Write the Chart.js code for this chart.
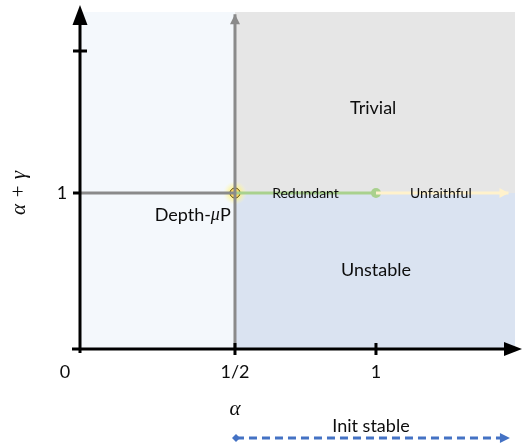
<!DOCTYPE html>
<html>
<head>
<meta charset="utf-8">
<script src="https://cdn.jsdelivr.net/npm/chart.js@4/dist/chart.umd.min.js"></script>
<style>
  html, body { margin: 0; padding: 0; background: #ffffff; }
  #wrap { width: 522px; height: 447px; position: relative; }
</style>
</head>
<body>
<div id="wrap"><canvas id="c" width="522" height="447"></canvas></div>
<script>
// ---- data ----
const xTickValues = [0.5, 1];
const xTickLabels = ['1/2', '1'];
const yTickValues = [1, 2];
const yTickLabels = ['1', ''];
const originLabel = '0';
const xAxisTitle = 'α';
const yAxisTitle = 'α + γ';

const boundaryX = 0.5;   // alpha = 1/2
const boundaryY = 1;     // alpha + gamma = 1

const grayHorizontal = [{ x: -0.05, y: 1 }, { x: 0.5, y: 1 }];
const grayVertical = [{ x: 0.5, y: -0.1 }, { x: 0.5, y: 2.26 }];
const redundantSegment = [{ x: 0.5, y: 1 }, { x: 1, y: 1 }];
const unfaithfulSegment = [{ x: 1, y: 1 }, { x: 1.47, y: 1 }];
const depthMuPPoint = [{ x: 0.5, y: 1 }];
const redundantEndPoint = [{ x: 1, y: 1 }];

const regionNames = ['Trivial', 'Depth-μP', 'Unstable'];
const regionLabelX = [0.99, 0.35, 1.0];
const regionLabelY = [1.6, 0.845, 0.46];
const segmentNames = ['Redundant', 'Unfaithful'];
const segmentLabelX = [0.75, 1.23];
const segmentLabelY = [1, 1];

const initStableLabel = 'Init stable';
const initStableFrom = 0.5;
const initStableTo = 1.475;

// ---- styles ----
const C = {
  leftRegion: '#f4f8fc',
  trivialRegion: '#e6e6e6',
  unstableRegion: '#dae3f1',
  gray: '#8a8a8a',
  green: '#a9d18e',
  yellowLine: '#fff2cc',
  yellowPoint: '#ffd966',
  blue: '#4472c4',
  text: '#0d0d0d'
};
const SANS = 'Lato, "Open Sans", sans-serif';

function arrowHead(ctx, tipX, tipY, dir, len, half, color) {
  ctx.save();
  ctx.fillStyle = color;
  ctx.beginPath();
  if (dir === 'up') {
    ctx.moveTo(tipX, tipY); ctx.lineTo(tipX - half, tipY + len); ctx.lineTo(tipX + half, tipY + len);
  } else if (dir === 'right') {
    ctx.moveTo(tipX, tipY); ctx.lineTo(tipX - len, tipY - half); ctx.lineTo(tipX - len, tipY + half);
  }
  ctx.closePath();
  ctx.fill();
  ctx.restore();
}

// draw text where a Greek "μ" is set in math italic
function mixedText(ctx, text, cx, cy, size) {
  const parts = text.split(/(μ)/).filter(s => s.length);
  const fontFor = s => s === 'μ' ? 'italic ' + size + 'px "Liberation Serif", serif' : size + 'px ' + SANS;
  let total = 0;
  parts.forEach(s => { ctx.font = fontFor(s); total += ctx.measureText(s).width; });
  let px = cx - total / 2;
  ctx.save();
  ctx.textAlign = 'left';
  parts.forEach(s => { ctx.font = fontFor(s); ctx.fillText(s, px, cy); px += ctx.measureText(s).width; });
  ctx.restore();
}

const diagramPlugin = {
  id: 'diagram',
  beforeDatasetsDraw(chart) {
    const { ctx, chartArea: a, scales: { x, y } } = chart;
    const bx = x.getPixelForValue(boundaryX);
    const by = y.getPixelForValue(boundaryY);
    ctx.save();
    ctx.fillStyle = C.leftRegion;
    ctx.fillRect(a.left, a.top, bx - a.left, a.bottom - a.top);
    ctx.fillStyle = C.trivialRegion;
    ctx.fillRect(bx, a.top, a.right - bx, by - a.top);
    ctx.fillStyle = C.unstableRegion;
    ctx.fillRect(bx, by, a.right - bx, a.bottom - by);
    ctx.restore();
  },
  afterDatasetsDraw(chart) {
    const { ctx, chartArea: a, scales: { x, y } } = chart;
    const gvTop = grayVertical[grayVertical.length - 1];
    arrowHead(ctx, x.getPixelForValue(gvTop.x), y.getPixelForValue(gvTop.y), 'up', 10, 5, C.gray);
    const ufEnd = unfaithfulSegment[unfaithfulSegment.length - 1];
    arrowHead(ctx, x.getPixelForValue(ufEnd.x), y.getPixelForValue(ufEnd.y), 'right', 9, 5, C.yellowLine);

    // black axes
    ctx.save();
    ctx.strokeStyle = '#000';
    ctx.lineWidth = 3;
    ctx.beginPath();
    ctx.moveTo(a.left, a.bottom + 4);
    ctx.lineTo(a.left, 24);
    ctx.moveTo(a.left - 8, a.bottom);
    ctx.lineTo(506, a.bottom);
    ctx.stroke();
    arrowHead(ctx, a.left, 5, 'up', 20, 7.5, '#000');
    arrowHead(ctx, 522, a.bottom, 'right', 18, 7, '#000');
    ctx.beginPath();
    xTickValues.forEach(v => {
      const px = x.getPixelForValue(v);
      ctx.moveTo(px, a.bottom - 6); ctx.lineTo(px, a.bottom + 6);
    });
    yTickValues.forEach((v, i) => {
      const py = y.getPixelForValue(v);
      ctx.moveTo(a.left - 7, py); ctx.lineTo(a.left + (yTickLabels[i] ? 0 : 7), py);
    });
    ctx.stroke();

    // tick labels
    ctx.fillStyle = C.text;
    ctx.font = '18px ' + SANS;
    ctx.textAlign = 'center';
    ctx.textBaseline = 'middle';
    xTickValues.forEach((v, i) => ctx.fillText(xTickLabels[i], x.getPixelForValue(v), a.bottom + 23));
    ctx.fillText(originLabel, a.left - 15, a.bottom + 23);
    yTickValues.forEach((v, i) => { if (yTickLabels[i]) ctx.fillText(yTickLabels[i], a.left - 18, y.getPixelForValue(v)); });

    // axis titles
    ctx.font = 'italic 21px "Liberation Serif", serif';
    ctx.fillText(xAxisTitle, x.getPixelForValue(boundaryX), a.bottom + 60);
    ctx.save();
    ctx.translate(19, y.getPixelForValue(boundaryY));
    ctx.rotate(-Math.PI / 2);
    ctx.fillText(yAxisTitle, 0, 0);
    ctx.restore();

    // region labels
    regionNames.forEach((t, i) => mixedText(ctx, t, x.getPixelForValue(regionLabelX[i]), y.getPixelForValue(regionLabelY[i]), 18));
    ctx.font = '14px ' + SANS;
    segmentNames.forEach((t, i) => ctx.fillText(t, x.getPixelForValue(segmentLabelX[i]), y.getPixelForValue(segmentLabelY[i])));

    // init stable dashed arrow
    const x0 = x.getPixelForValue(initStableFrom) - 3;
    const x1 = x.getPixelForValue(initStableTo);
    const yy = a.bottom + 89;
    ctx.strokeStyle = C.blue;
    ctx.lineWidth = 3;
    ctx.setLineDash([8, 5]);
    ctx.beginPath();
    ctx.moveTo(x0 + 4, yy);
    ctx.lineTo(x1 - 8, yy);
    ctx.stroke();
    ctx.setLineDash([]);
    arrowHead(ctx, x1, yy, 'right', 10, 5, C.blue);
    ctx.fillStyle = C.blue;
    ctx.beginPath();
    ctx.moveTo(x0, yy); ctx.lineTo(x0 + 4, yy - 4); ctx.lineTo(x0 + 8, yy); ctx.lineTo(x0 + 4, yy + 4);
    ctx.closePath(); ctx.fill();
    ctx.fillStyle = C.text;
    ctx.font = '18px ' + SANS;
    ctx.fillText(initStableLabel, (x0 + x1) / 2, yy - 12);
    ctx.restore();
  }
};

const glowPlugin = {
  id: 'glow',
  beforeDatasetDraw(chart, args) {
    if (args.index !== 5) return;
    const { ctx, scales: { x, y } } = chart;
    const p = depthMuPPoint[0];
    const px = x.getPixelForValue(p.x), py = y.getPixelForValue(p.y);
    const g = ctx.createRadialGradient(px, py, 4, px, py, 12);
    g.addColorStop(0, 'rgba(255,240,110,0.9)');
    g.addColorStop(1, 'rgba(255,250,180,0)');
    ctx.save();
    ctx.fillStyle = g;
    ctx.beginPath(); ctx.arc(px, py, 12, 0, Math.PI * 2); ctx.fill();
    ctx.restore();
  }
};

const lineDs = (data, color, width) => ({
  type: 'line', data, borderColor: color, borderWidth: width,
  pointRadius: 0, fill: false, tension: 0
});

new Chart(document.getElementById('c'), {
  type: 'scatter',
  data: {
    datasets: [
      lineDs(grayHorizontal, C.gray, 3),
      lineDs(grayVertical, C.gray, 3),
      lineDs(redundantSegment, C.green, 3),
      lineDs(unfaithfulSegment, C.yellowLine, 3),
      { type: 'scatter', data: redundantEndPoint, pointRadius: 5, backgroundColor: C.green, borderColor: C.green, borderWidth: 0 },
      { type: 'scatter', data: depthMuPPoint, pointRadius: 5, backgroundColor: C.yellowPoint, borderColor: '#5a4a10', borderWidth: 1 }
    ]
  },
  options: {
    responsive: false,
    animation: false,
    events: [],
    layout: { padding: { left: 80, right: 7, top: 12, bottom: 98 } },
    plugins: { legend: { display: false }, tooltip: { enabled: false } },
    scales: {
      x: { type: 'linear', display: false, min: -0.0496, max: 1.493 },
      y: { type: 'linear', display: false, min: -0.0986, max: 2.275 }
    }
  },
  plugins: [diagramPlugin, glowPlugin]
});
</script>
</body>
</html>
